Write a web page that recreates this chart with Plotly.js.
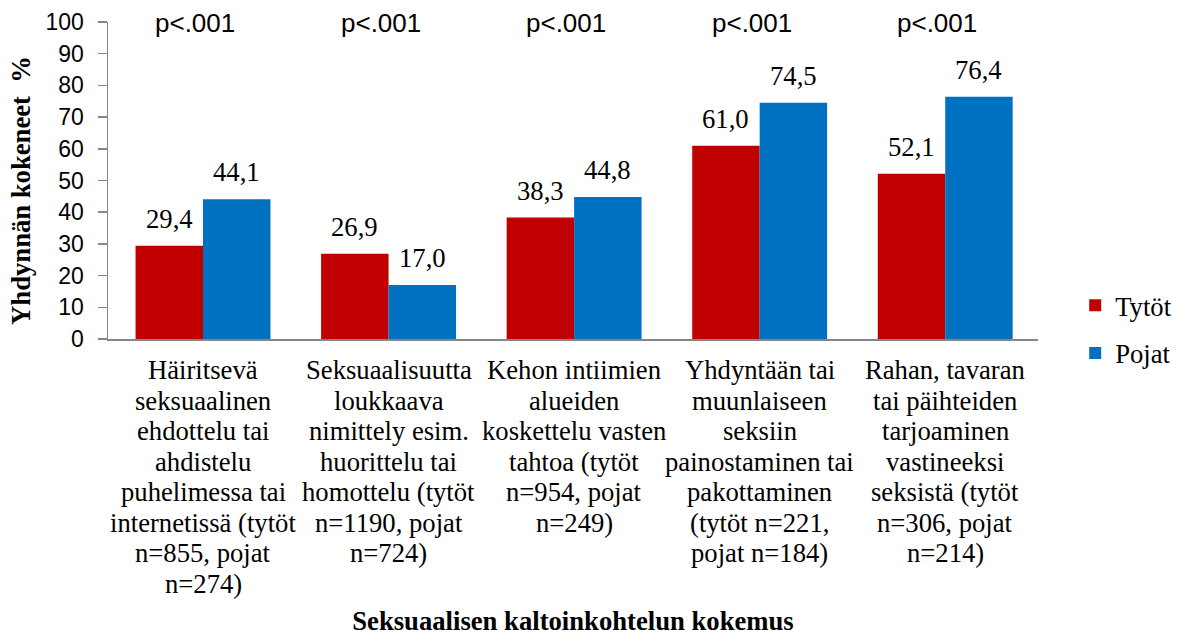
<!DOCTYPE html>
<html>
<head>
<meta charset="utf-8">
<script src="https://cdn.plot.ly/plotly-3.0.1.min.js"></script>
<style>html,body{margin:0;padding:0;background:#fff;}#chart{width:1189px;height:637px;}</style>
</head>
<body>
<div id="chart"></div>
<script>
const categories = [
  "Häiritsevä<br>seksuaalinen<br>ehdottelu tai<br>ahdistelu<br>puhelimessa tai<br>internetissä (tytöt<br>n=855, pojat<br>n=274)",
  "Seksuaalisuutta<br>loukkaava<br>nimittely esim.<br>huorittelu tai<br>homottelu (tytöt<br>n=1190, pojat<br>n=724)",
  "Kehon intiimien<br>alueiden<br>koskettelu vasten<br>tahtoa (tytöt<br>n=954, pojat<br>n=249)",
  "Yhdyntään tai<br>muunlaiseen<br>seksiin<br>painostaminen tai<br>pakottaminen<br>(tytöt n=221,<br>pojat n=184)",
  "Rahan, tavaran<br>tai päihteiden<br>tarjoaminen<br>vastineeksi<br>seksistä (tytöt<br>n=306, pojat<br>n=214)"
];
const tytot = [29.4, 26.9, 38.3, 61.0, 52.1];
const pojat = [44.1, 17.0, 44.8, 74.5, 76.4];
const pValues = ["p<.001", "p<.001", "p<.001", "p<.001", "p<.001"];
const yTickVals = [0, 10, 20, 30, 40, 50, 60, 70, 80, 90, 100];

const fmt = v => v.toFixed(1).replace('.', ',');
const serif = "Liberation Serif";
const sans = "Liberation Sans";
const big = 26.67;

const traces = [
  {type: 'bar', name: 'Tytöt', x: categories, y: tytot, marker: {color: '#C00000'}, legendgroup: 'a', hoverinfo: 'none'},
  {type: 'bar', name: 'Pojat', x: categories, y: pojat, marker: {color: '#0070C0'}, legendgroup: 'b', hoverinfo: 'none'}
];

const annotations = [];
const off = 0.182;
tytot.forEach((v, i) => annotations.push({x: i - off, y: v, xref: 'x', yref: 'y', text: fmt(v), showarrow: false, yanchor: 'bottom', yshift: 10, font: {family: serif, size: big, color: '#000'}}));
pojat.forEach((v, i) => annotations.push({x: i + off, y: v, xref: 'x', yref: 'y', text: fmt(v), showarrow: false, yanchor: 'bottom', yshift: 10, font: {family: serif, size: big, color: '#000'}}));
pValues.forEach((p, i) => annotations.push({x: i, y: 100, xref: 'x', yref: 'y', text: p, showarrow: false, yanchor: 'middle', xshift: -8, yshift: -1, font: {family: sans, size: 26, color: '#000'}}));
// category labels, one line each (reference uses tighter line spacing than Plotly's tick labels)
categories.forEach((c, i) => {
  c.split('<br>').forEach((line, k) => annotations.push({
    x: i, y: 0, xref: 'x', yref: 'y', text: line, showarrow: false,
    yanchor: 'middle', yshift: -(31 + 30.57 * k),
    font: {family: serif, size: big, color: '#000'}
  }));
});

const layout = {
  width: 1189, height: 637,
  margin: {l: 108, r: 132, t: 22, b: 298},
  paper_bgcolor: '#fff', plot_bgcolor: '#fff',
  font: {family: serif, color: '#000'},
  barmode: 'group', bargap: 0.273, bargroupgap: 0,
  showlegend: true,
  legend: {x: 1.04, xanchor: 'left', y: 0.03, yanchor: 'middle', font: {family: serif, size: big, color: '#000'}, tracegroupgap: 10, itemclick: false},
  xaxis: {
    type: 'category', showgrid: false, zeroline: false,
    showline: true, linecolor: '#868686', linewidth: 1.5,
    ticks: '', showticklabels: false,
    title: {text: '<b>Seksuaalisen kaltoinkohtelun kokemus</b>', font: {family: serif, size: big, color: '#000'}, standoff: 272}
  },
  yaxis: {
    range: [0, 100], tickvals: yTickVals, showgrid: false, zeroline: false,
    showline: true, linecolor: '#868686', linewidth: 1.5,
    ticks: 'outside', ticklen: 9, tickcolor: '#868686', tickwidth: 1.5,
    ticklabelstandoff: 9,
    tickfont: {family: sans, size: 23, color: '#000'},
    title: {text: '<b>Yhdynnän kokeneet  %\u00A0\u00A0\u00A0</b>', font: {family: serif, size: big, color: '#000'}, standoff: 7}
  },
  annotations: annotations
};

Plotly.newPlot('chart', traces, layout, {displayModeBar: false, staticPlot: true});
</script>
</body>
</html>
